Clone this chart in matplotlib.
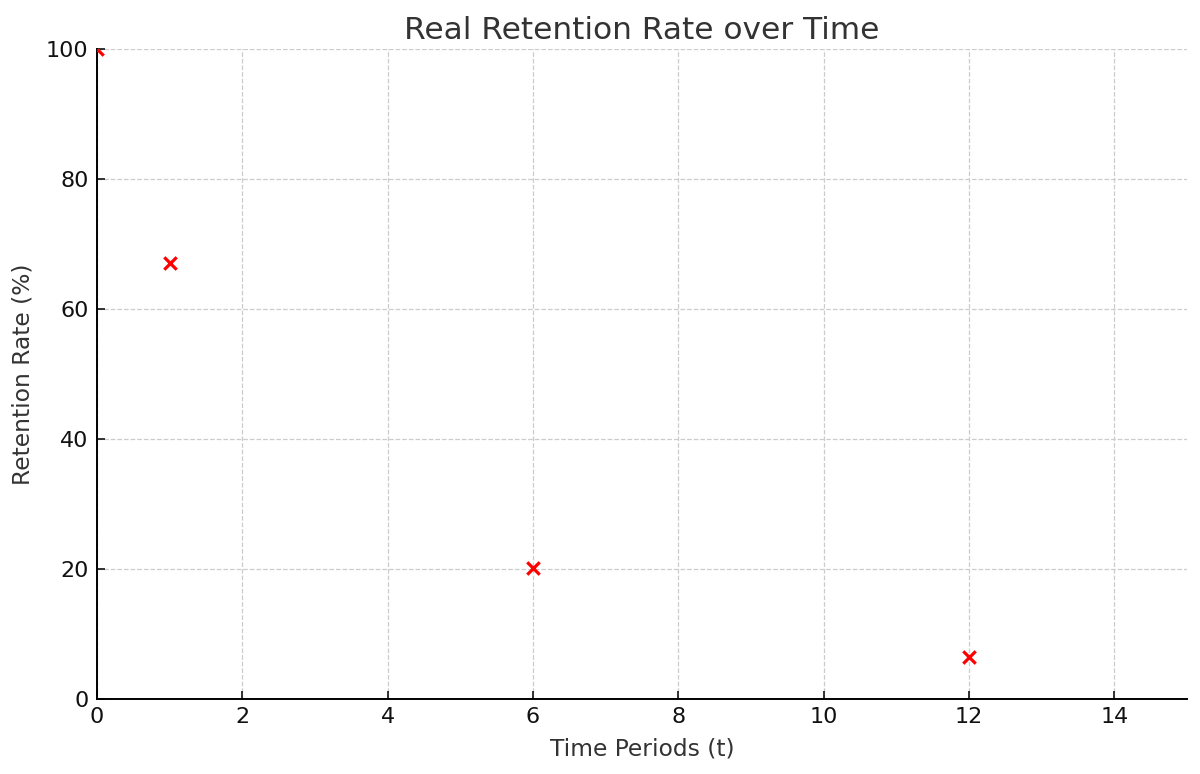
import matplotlib
matplotlib.use("Agg")
import matplotlib.pyplot as plt

time_periods = [0, 1, 6, 12]
retention = [100, 67.1, 20.2, 6.5]
x_ticks = [0, 2, 4, 6, 8, 10, 12, 14]
y_ticks = [0, 20, 40, 60, 80, 100]

fig = plt.figure(figsize=(12, 7.74), dpi=100)
ax = fig.add_axes([0.0808, 0.0969, 0.9083, 0.8398])
ax.scatter(time_periods, retention, marker='x', color='red', s=80, linewidths=2.3, zorder=3, clip_on=True)
ax.set_xlim(0, 15)
ax.set_ylim(0, 100)
ax.set_xticks(x_ticks)
ax.set_yticks(y_ticks)
ax.grid(True, linestyle='--', color='#cccccc', linewidth=0.9)
ax.set_axisbelow(True)
for s in ['top', 'right']:
    ax.spines[s].set_visible(False)
for s in ['left', 'bottom']:
    ax.spines[s].set_linewidth(1.4)
ax.tick_params(labelsize=16, width=1.2, length=6, direction='in', pad=6, colors='#111111')
ax.set_title('Real Retention Rate over Time', fontsize=22.5, color='#333333', pad=7)
ax.set_xlabel('Time Periods (t)', fontsize=16.8, color='#333333', labelpad=7)
ax.set_ylabel('Retention Rate (%)', fontsize=16.8, color='#333333', labelpad=8)
fig.savefig('out.png', dpi=100)
